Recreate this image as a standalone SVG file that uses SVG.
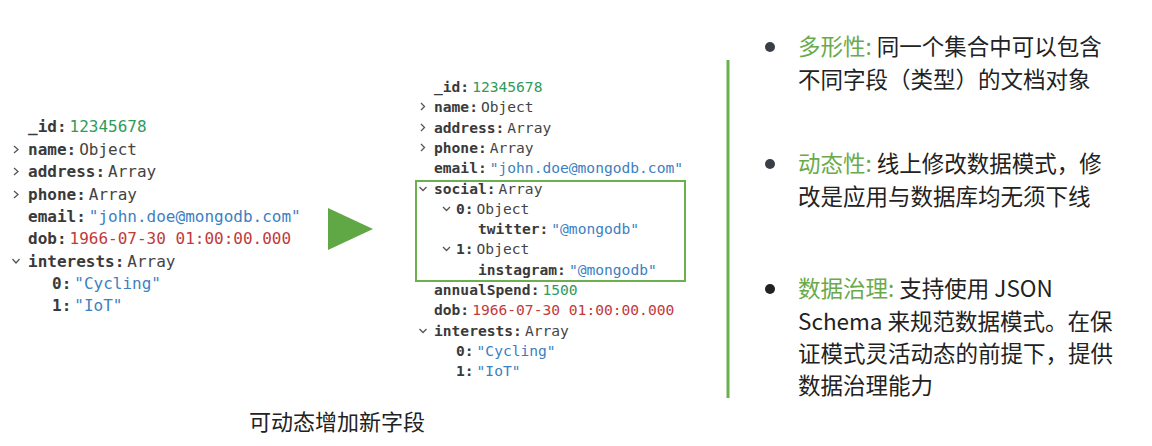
<svg xmlns="http://www.w3.org/2000/svg" width="1152" height="446" viewBox="0 0 1152 446">
<style>
.m{font-family:"DejaVu Sans Mono",monospace;fill:#444}
.L{font-size:16px}.R{font-size:14.6px}
.k{font-weight:bold;fill:#3a3a3a}
.g{fill:#2f9a5e}.s{fill:#3d7fc1}.d{fill:#c23a3a}
.c{fill:none;stroke:#555;stroke-width:1.3}
.z{font-family:"Noto Sans CJK SC","Noto Sans",sans-serif;font-size:22.5px;fill:#222}
.gr{fill:#6aaa4a}
</style>
<rect width="1152" height="446" fill="#fff"/>
<g id="doc-left" class="m L">
<text x="28" y="132"><tspan class="k">_id:</tspan><tspan dx="3" class="g">12345678</tspan></text>
<text x="28" y="155"><tspan class="k">name:</tspan><tspan dx="3">Object</tspan></text>
<text x="28" y="177"><tspan class="k">address:</tspan><tspan dx="3">Array</tspan></text>
<text x="28" y="200"><tspan class="k">phone:</tspan><tspan dx="3">Array</tspan></text>
<text x="28" y="222"><tspan class="k">email:</tspan><tspan dx="3" class="s">"john.doe@mongodb.com"</tspan></text>
<text x="28" y="244"><tspan class="k">dob:</tspan><tspan dx="3" class="d">1966-07-30 01:00:00.000</tspan></text>
<text x="28" y="267"><tspan class="k">interests:</tspan><tspan dx="3">Array</tspan></text>
<text x="52" y="289"><tspan class="k">0:</tspan><tspan dx="3" class="s">"Cycling"</tspan></text>
<text x="52" y="311"><tspan class="k">1:</tspan><tspan dx="3" class="s">"IoT"</tspan></text>
<path class="c" d="M14 146l4 3.5-4 3.5M14 168l4 3.5-4 3.5M14 191l4 3.5-4 3.5M12.5 259l3.5 4 3.5-4"/>
</g>
<g id="arrow"><polygon points="328,208 328,250 373,229" fill="#5fa845"/></g>
<g id="doc-right" class="m R">
<text x="434" y="92"><tspan class="k">_id:</tspan><tspan dx="3" class="g">12345678</tspan></text>
<text x="434" y="112"><tspan class="k">name:</tspan><tspan dx="3">Object</tspan></text>
<text x="434" y="133"><tspan class="k">address:</tspan><tspan dx="3">Array</tspan></text>
<text x="434" y="153"><tspan class="k">phone:</tspan><tspan dx="3">Array</tspan></text>
<text x="434" y="173"><tspan class="k">email:</tspan><tspan dx="3" class="s">"john.doe@mongodb.com"</tspan></text>
<text x="434" y="194"><tspan class="k">social:</tspan><tspan dx="3">Array</tspan></text>
<text x="456" y="214"><tspan class="k">0:</tspan><tspan dx="3">Object</tspan></text>
<text x="478" y="234"><tspan class="k">twitter:</tspan><tspan dx="3" class="s">"@mongodb"</tspan></text>
<text x="456" y="254"><tspan class="k">1:</tspan><tspan dx="3">Object</tspan></text>
<text x="478" y="275"><tspan class="k">instagram:</tspan><tspan dx="3" class="s">"@mongodb"</tspan></text>
<text x="434" y="295"><tspan class="k">annualSpend:</tspan><tspan dx="3" class="g">1500</tspan></text>
<text x="434" y="315"><tspan class="k">dob:</tspan><tspan dx="3" class="d">1966-07-30 01:00:00.000</tspan></text>
<text x="434" y="336"><tspan class="k">interests:</tspan><tspan dx="3">Array</tspan></text>
<text x="456" y="356"><tspan class="k">0:</tspan><tspan dx="3" class="s">"Cycling"</tspan></text>
<text x="456" y="376"><tspan class="k">1:</tspan><tspan dx="3" class="s">"IoT"</tspan></text>
<path class="c" d="M421 103l3.5 3.5-3.5 3.5M421 124l3.5 3.5-3.5 3.5M421 144l3.5 3.5-3.5 3.5M419.5 187l3.5 3.5 3.5-3.5M443 207l3.5 3.5 3.5-3.5M443 247l3.5 3.5 3.5-3.5M419.5 329l3.5 3.5 3.5-3.5"/>
<rect x="416" y="181" width="269" height="100" fill="none" stroke="#6ab04c" stroke-width="2"/>
</g>
<text class="z" x="337" y="430" text-anchor="middle" style="font-size:22px">可动态增加新字段</text>
<line x1="728" y1="60" x2="728" y2="398" stroke="#6ab04c" stroke-width="3"/>
<g id="notes" class="z">
<circle cx="770" cy="47" r="5" fill="#3a3f47"/>
<text x="798" y="55"><tspan class="gr">多形性:</tspan> 同一个集合中可以包含</text>
<text x="798" y="88">不同字段（类型）的文档对象</text>
<circle cx="770" cy="164" r="5" fill="#3a3f47"/>
<text x="798" y="172"><tspan class="gr">动态性:</tspan> 线上修改数据模式，修</text>
<text x="798" y="205">改是应用与数据库均无须下线</text>
<circle cx="770" cy="289" r="5" fill="#222"/>
<text x="798" y="297"><tspan class="gr">数据治理:</tspan> 支持使用 JSON</text>
<text x="798" y="330">Schema 来规范数据模式。在保</text>
<text x="798" y="362">证模式灵活动态的前提下，提供</text>
<text x="798" y="394">数据治理能力</text>
</g>
</svg>
